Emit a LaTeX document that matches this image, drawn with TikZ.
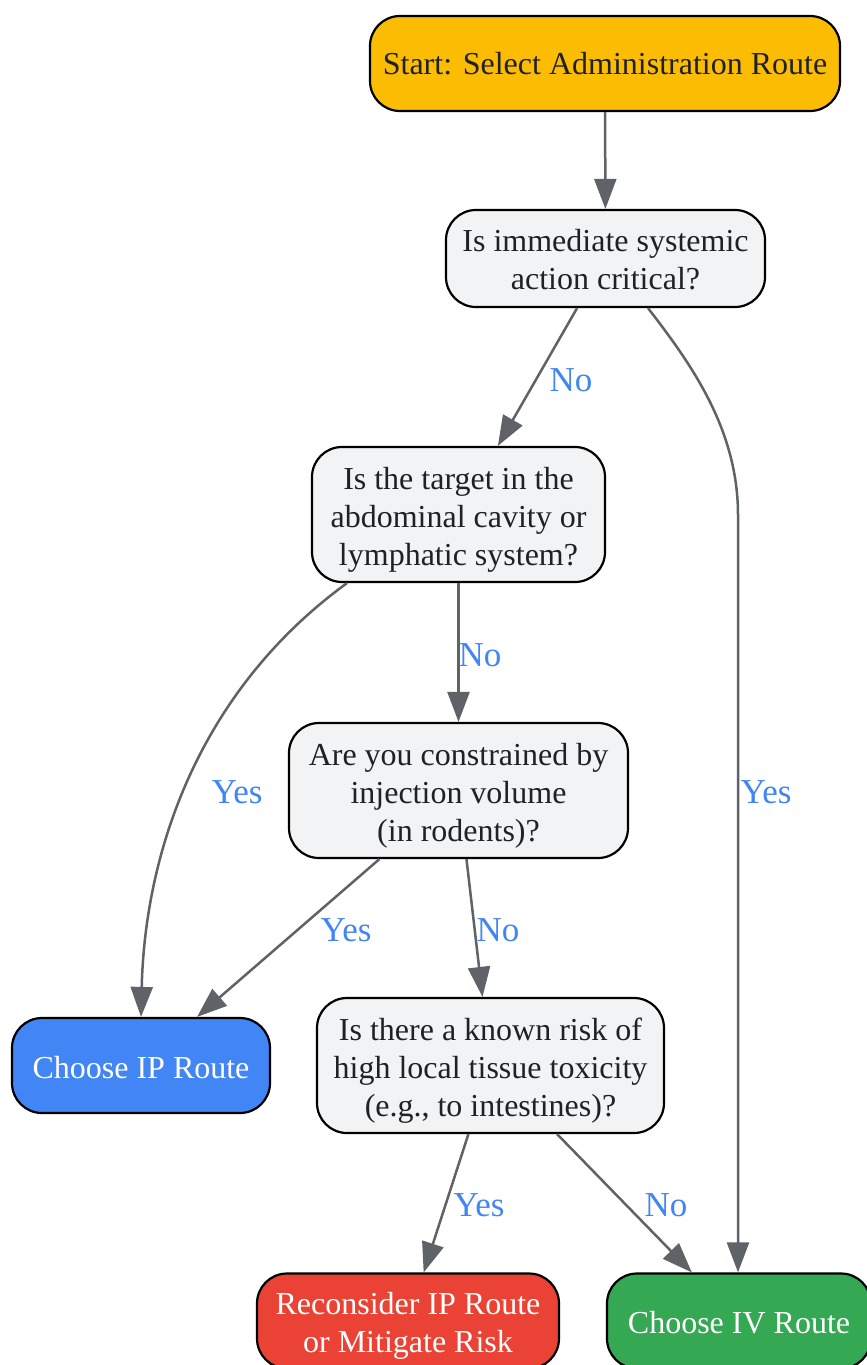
\documentclass[tikz,border=0pt]{standalone}
\usepackage{fontspec}
\setmainfont{Liberation Serif}
\usetikzlibrary{arrows.meta}
\definecolor{edgegray}{HTML}{5F6368}
\definecolor{qfill}{HTML}{F1F3F4}
\definecolor{txtdark}{HTML}{202124}
\definecolor{startfill}{HTML}{FBBC04}
\definecolor{ipfill}{HTML}{4285F4}
\definecolor{redfill}{HTML}{EA4335}
\definecolor{greenfill}{HTML}{34A853}
\definecolor{lblblue}{HTML}{4285F4}
\newcommand{\lowstrut}[1]{\rule{0pt}{#1}}
\tikzset{
  box/.style={draw=black, line width=2.2pt, rounded corners=30pt, inner sep=0pt, align=center,
    font=\fontsize{32}{38}\selectfont, text=txtdark},
  qbox/.style={box, fill=qfill},
  conn/.style={draw=edgegray, line width=2.5pt, -{Triangle[length=30pt,width=22pt]}},
  lbl/.style={text=lblblue, font=\fontsize{35}{40}\selectfont, inner sep=0pt}
}
\begin{document}
\begin{tikzpicture}[x=1pt,y=-1pt]
\useasboundingbox (0,0) rectangle (867,1365);
\fill[white] (0,0) rectangle (867,1365);
\node[box, fill=startfill, minimum width=470pt, minimum height=95pt] (start) at (605,63.5) {Start: Select Administration Route};
\node[qbox, minimum width=319pt, minimum height=97pt] (q1) at (605.5,258.5) {\lowstrut{24pt}Is immediate systemic\\action critical?};
\node[qbox, minimum width=293pt, minimum height=135pt] (q2) at (458.5,514.5) {\lowstrut{32pt}Is the target in the\\abdominal cavity or\\lymphatic system?};
\node[qbox, minimum width=339pt, minimum height=135pt] (q3) at (458.5,790.5) {\lowstrut{32pt}Are you constrained by\\injection volume\\(in rodents)?};
\node[qbox, minimum width=347pt, minimum height=135pt] (q4) at (490.5,1065.5) {\lowstrut{32pt}Is there a known risk of\\high local tissue toxicity\\(e.g., to intestines)?};
\node[box, fill=ipfill, text=white, minimum width=258pt, minimum height=95pt] (ip) at (141,1065.5) {\lowstrut{27pt}Choose IP Route};
\node[box, fill=redfill, text=white, minimum width=302pt, minimum height=95pt] (rec) at (408,1321) {\lowstrut{32pt}Reconsider IP Route\\or Mitigate Risk};
\node[box, fill=greenfill, text=white, minimum width=264pt, minimum height=95pt] (iv) at (739,1321) {\lowstrut{26pt}Choose IV Route};

\draw[conn] (start) -- (q1);
\draw[conn] (q1) -- (q2);
\draw[conn] ([xshift=42.5pt]q1.south) .. controls (692,365) and (738,430) .. (738,515) -- ([xshift=-1pt]iv.north);
\draw[conn] (q2) -- (q3);
\draw[conn] ([xshift=-111.5pt]q2.south) .. controls (200,690) and (145,850) .. (ip.north);
\draw[conn] (q3) -- (ip);
\draw[conn] (q3) -- (q4);
\draw[conn] (q4) -- (rec);
\draw[conn] (q4) -- (iv);

\node[lbl] (l1) at (571,380) {No};
\node[lbl] (l2) at (766,792) {Yes};
\node[lbl] (l3) at (480,655) {No};
\node[lbl] (l4) at (237,792) {Yes};
\node[lbl] (l5) at (346,930) {Yes};
\node[lbl] (l6) at (498,930) {No};
\node[lbl] (l7) at (479,1205) {Yes};
\node[lbl] (l8) at (666,1205) {No};
\end{tikzpicture}
\end{document}
